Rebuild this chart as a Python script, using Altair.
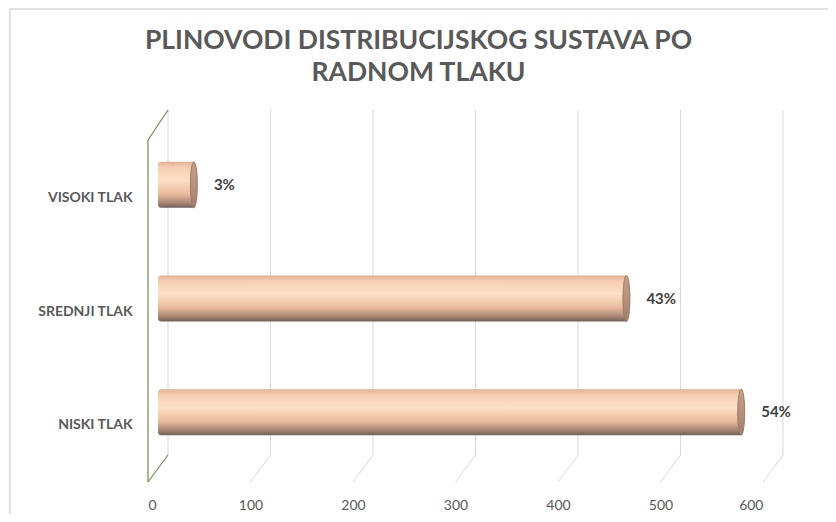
import altair as alt
import pandas as pd

categories = ["VISOKI TLAK", "SREDNJI TLAK", "NISKI TLAK"]
values = [35, 457, 569]
pct_labels = ["3%", "43%", "54%"]
ticks = [0, 100, 200, 300, 400, 500, 600]

FONT = "Lato, Open Sans, sans-serif"
W, H = 615, 372

bars_df = pd.DataFrame({"cat": categories, "val": values, "lab": pct_labels})
ticks_df = pd.DataFrame({"t": ticks})

xs = alt.Scale(domain=[0, 600], nice=False, zero=True)
ys = alt.Scale(domain=categories, range=[18, 359], paddingInner=0, paddingOuter=0)

grid_back = alt.Chart(ticks_df).mark_rule(color="#d9d9d9", strokeWidth=1, xOffset=10, x2Offset=10).encode(
    x=alt.X("t:Q", scale=xs, axis=alt.Axis(
        values=ticks, title=None, grid=False, domain=False, ticks=False,
        labelOffset=-10, labelPadding=16, labelFont=FONT, labelFontSize=14,
        labelColor="#595959")),
    y=alt.value(0), y2=alt.value(345))

diag = alt.Chart(ticks_df).transform_filter("datum.t > 0").mark_rule(
    color="#d9d9d9", strokeWidth=1, xOffset=10, x2Offset=-10).encode(
    x=alt.X("t:Q", scale=xs), x2="t:Q", y=alt.value(345), y2=alt.value(372))

green_col = "#6a8f4e"
wall_bot = alt.Chart(ticks_df).transform_filter("datum.t == 0").mark_rule(
    color=green_col, strokeWidth=1.2, xOffset=10, x2Offset=-10).encode(
    x=alt.X("t:Q", scale=xs), x2="t:Q", y=alt.value(345), y2=alt.value(372))
wall_vert = alt.Chart(ticks_df).transform_filter("datum.t == 0").mark_rule(
    color=green_col, strokeWidth=1.2, xOffset=-10, x2Offset=-10).encode(
    x=alt.X("t:Q", scale=xs), y=alt.value(30), y2=alt.value(372))
wall_top = alt.Chart(ticks_df).transform_filter("datum.t == 0").mark_rule(
    color=green_col, strokeWidth=1.2, xOffset=-10, x2Offset=10).encode(
    x=alt.X("t:Q", scale=xs), x2="t:Q", y=alt.value(30), y2=alt.value(0))

grad = alt.Gradient(
    gradient="linear", x1=0, x2=0, y1=0, y2=1,
    stops=[
        alt.GradientStop(offset=0, color="#e2b091"),
        alt.GradientStop(offset=0.12, color="#f6cfb2"),
        alt.GradientStop(offset=0.4, color="#fde0c7"),
        alt.GradientStop(offset=0.7, color="#e8bb9e"),
        alt.GradientStop(offset=0.9, color="#a58470"),
        alt.GradientStop(offset=1, color="#6f5f57"),
    ])

bars = alt.Chart(bars_df).mark_bar(size=46, color=grad, cornerRadiusTopLeft=3,
                                     cornerRadiusBottomLeft=3).encode(
    x=alt.X("val:Q", scale=xs),
    x2=alt.datum(0),
    y=alt.Y("cat:N", scale=ys, sort=categories, axis=alt.Axis(
        title=None, domain=False, ticks=False, labelPadding=26, labelOffset=13,
        labelFont=FONT, labelFontSize=14, labelFontWeight="bold", labelColor="#595959")))

cap_grad = alt.Gradient(
    gradient="linear", x1=0, x2=0, y1=0, y2=1,
    stops=[
        alt.GradientStop(offset=0, color="#c9a08a"),
        alt.GradientStop(offset=0.5, color="#b8917b"),
        alt.GradientStop(offset=1, color="#a07e6b"),
    ])
ellipse = "M0,-1A0.15,1,0,1,1,0,1A0.15,1,0,1,1,0,-1Z"
caps = alt.Chart(bars_df).mark_point(shape=ellipse, filled=True, size=46 * 46,
                                      fill=cap_grad, stroke="#9c7a67", strokeWidth=1,
                                      opacity=1).encode(
    x=alt.X("val:Q", scale=xs), y=alt.Y("cat:N", scale=ys, sort=categories))

texts = alt.Chart(bars_df).mark_text(align="left", dx=20, font=FONT, fontSize=15,
                                      fontWeight="bold", color="#404040").encode(
    x=alt.X("val:Q", scale=xs), y=alt.Y("cat:N", scale=ys, sort=categories), text="lab:N")

border = alt.Chart(ticks_df).transform_filter("datum.t == 0").mark_rect(
    fill=None, stroke="#d9d9d9", strokeWidth=1.5).encode(
    x=alt.value(-148), x2=alt.value(700), y=alt.value(-101), y2=alt.value(430))

chart = alt.layer(border, grid_back, diag, wall_bot, wall_vert, wall_top, bars, caps, texts).properties(
    width=W, height=H,
    title=alt.TitleParams(
        text=["PLINOVODI DISTRIBUCIJSKOG SUSTAVA PO", "RADNOM TLAKU"],
        font=FONT, fontSize=26.5, fontWeight="bold", color="#595959",
        anchor="middle", dx=-47, offset=-78, lineHeight=32),
    padding={"left": 150, "top": 102, "right": 55, "bottom": 32},
    autosize=alt.AutoSizeParams(type="none"),
    background="white",
).configure_view(stroke=None)

chart.save("out.html", embed_options={"renderer": "svg", "actions": False})
